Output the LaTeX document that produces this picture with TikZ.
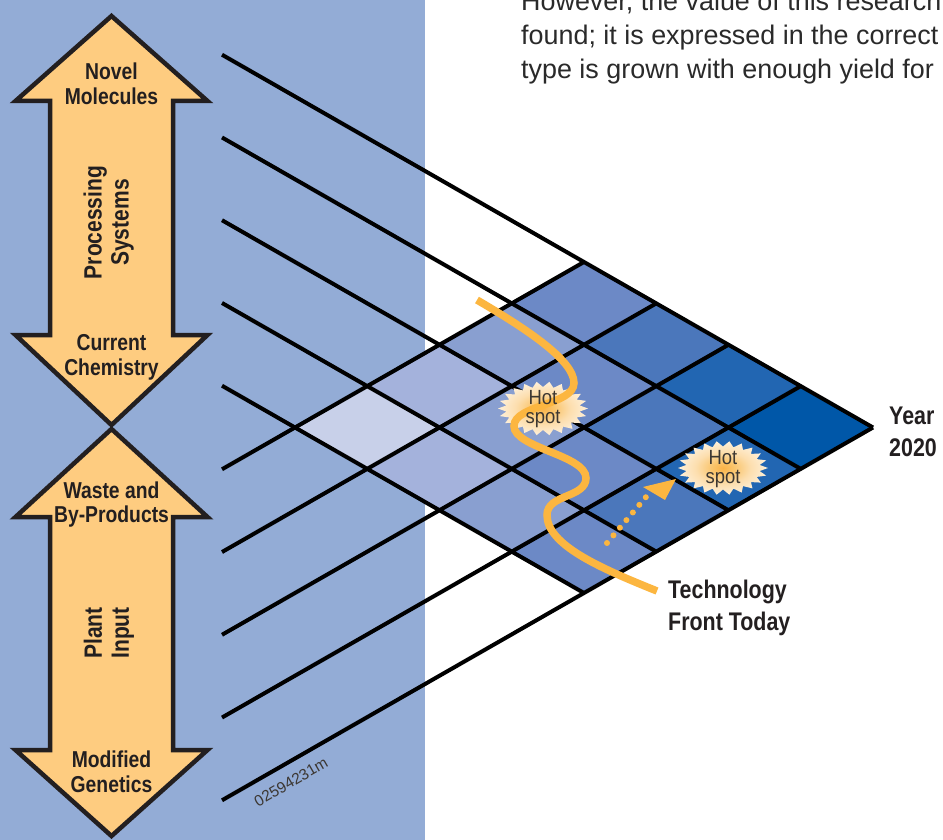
\documentclass[tikz,border=0pt]{standalone}
\usepackage{fontspec}
\setmainfont{Liberation Sans}
\newfontfamily\condfont[FakeStretch=0.84]{Liberation Sans}
\newfontfamily\hotfont[FakeStretch=0.9]{Liberation Sans}
\usetikzlibrary{calc}

\definecolor{bgblue}{RGB}{147,172,214}
\definecolor{arrowfill}{RGB}{254,204,128}
\definecolor{ink}{RGB}{35,31,32}
\definecolor{hotink}{RGB}{60,55,50}
\definecolor{paraink}{RGB}{42,42,42}
\definecolor{curveor}{RGB}{252,182,64}
\definecolor{cell0}{RGB}{0,87,168}
\definecolor{cell1}{RGB}{34,102,178}
\definecolor{cell2}{RGB}{75,119,187}
\definecolor{cell3}{RGB}{108,137,198}
\definecolor{cell4}{RGB}{137,159,208}
\definecolor{cell5}{RGB}{164,178,220}
\definecolor{cell6}{RGB}{200,208,233}

\pgfdeclareradialshading{hotshade}{\pgfpointorigin}{%
  rgb(0bp)=(0.98,0.70,0.28);
  rgb(6bp)=(0.98,0.77,0.42);
  rgb(15bp)=(0.99,0.87,0.68);
  rgb(25bp)=(0.996,0.94,0.85);
  rgb(50bp)=(0.996,0.94,0.85)}

\newcommand\hotburst[1]{%
  \begin{scope}[shift={#1}]
    \shade[shading=hotshade] (0:45 and 27)
      \foreach \k in {0,...,21} { -- ({\k*16.3636+8.1818}:37 and 21.5) -- ({(\k+1)*16.3636}:45 and 27) } -- cycle;
  \end{scope}}

\begin{document}
\begin{tikzpicture}[x=1pt,y=-1pt,
  gridline/.style={draw=black, line width=4pt},
  bigarrow/.style={fill=arrowfill, draw=ink, line width=4.5pt, line join=miter, miter limit=20},
  arrowlbl/.style={text=ink, font=\condfont\bfseries\fontsize{23}{24.5}\selectfont, align=center, inner sep=0pt},
  sidelbl/.style={text=ink, font=\condfont\bfseries\fontsize{25}{27}\selectfont, align=center, inner sep=0pt, rotate=90},
  bigtxt/.style={text=ink, font=\condfont\bfseries\fontsize{25.5}{32}\selectfont, align=left, inner sep=0pt, anchor=north west},
  hottxt/.style={text=hotink, font=\hotfont\fontsize{20.5}{19}\selectfont, align=center, inner sep=0pt},
  paratxt/.style={text=paraink, font=\fontsize{26.9}{34}\selectfont, inner sep=0pt, anchor=base west},
  frontcurve/.style={draw=curveor, line width=7.5pt},
]
\useasboundingbox (0,0) rectangle (943,840);
\fill[white] (0,0) rectangle (943,840);
\fill[bgblue] (0,0) rectangle (425,840);

% grid points
\foreach \i in {0,...,4}{
  \foreach \j in {0,...,4}{
    \coordinate (P\i\j) at ({873-72.25*(\i+\j)},{427.5+41.375*(\i-\j)});
  }
  \coordinate (S\i) at (222,{54.7+82.75*\i});
  \coordinate (A\i) at (222,{800.3-82.75*\i});
}

% cells
\foreach \i in {0,...,3}{
  \foreach \j in {0,...,3}{
    \pgfmathtruncatemacro{\k}{\i+\j}
    \pgfmathtruncatemacro{\ii}{\i+1}
    \pgfmathtruncatemacro{\jj}{\j+1}
    \fill[fill=cell\k] (P\i\j) -- (P\ii\j) -- (P\ii\jj) -- (P\i\jj) -- cycle;
  }
}

% lines
\foreach \i in {0,...,4}{
  \draw[gridline] (S\i) -- (P\i0);
  \draw[gridline] (A\i) -- (P0\i);
}

% hot spot 1 with the technology front curve
\hotburst{(543,408.5)}
\draw[frontcurve] (477,300) .. controls (525,328) and (574,360) .. (574,383)
  .. controls (574,405) and (514,405) .. (514,426)
  .. controls (514,448) and (586,455) .. (586,478)
  .. controls (586,498) and (547,494) .. (547,515)
  .. controls (547,545) and (600,568) .. (657,591);
\node[hottxt] (hot1) at (543,409) {Hot\\spot};

% hot spot 2
\hotburst{(723,468)}
\node[hottxt] (hot2) at (723,469) {Hot\\spot};

% dotted arrow
\coordinate (dotA) at (607,543);
\coordinate (dotB) at (646,497);
\draw[curveor, line width=6pt, line cap=round, dash pattern=on 0pt off 10pt] (dotA) -- (dotB);
\fill[curveor] (676,479) -- (643,487) -- (665,500) -- cycle;

% left double arrows
\draw[bigarrow] (111.5,16) -- (207.5,101) -- (173,101) -- (173,335) -- (207.5,335) -- (111.5,425)
  -- (15.5,335) -- (50,335) -- (50,101) -- (15.5,101) -- cycle;
\draw[bigarrow] (111.5,429) -- (207.5,517) -- (173,517) -- (173,750) -- (207.5,750) -- (111.5,836)
  -- (15.5,750) -- (50,750) -- (50,517) -- (15.5,517) -- cycle;

\node[arrowlbl] (novel) at (111.5,83.6) {Novel\\Molecules};
\node[sidelbl] (proc) at (108.7,222.5) {Processing\\Systems};
\node[arrowlbl] (curr) at (111.5,357.5) {Current\\Chemistry};
\node[arrowlbl] (waste) at (111.5,504.6) {Waste and\\By-Products};
\node[sidelbl] (plant) at (109,633) {Plant\\Input};
\node[arrowlbl] (modif) at (111.5,771.6) {Modified\\Genetics};

% right labels
\node[bigtxt] (tech) at (668,579.5) {Technology\\Front Today};
\node[bigtxt] (year) at (889,406.8) {Year\\2020};

% figure number
\node[text=hotink, font=\fontsize{15.5}{17}\selectfont, inner sep=0pt, rotate=30] (fignum) at (291,782) {02594231m};

% paragraph fragment
\node[paratxt] (par1) at (521,11) {However, the value of this research};
\node[paratxt] (par2) at (521,45) {found; it is expressed in the correct};
\node[paratxt] (par3) at (521,79) {type is grown with enough yield for};
\end{tikzpicture}
\end{document}
